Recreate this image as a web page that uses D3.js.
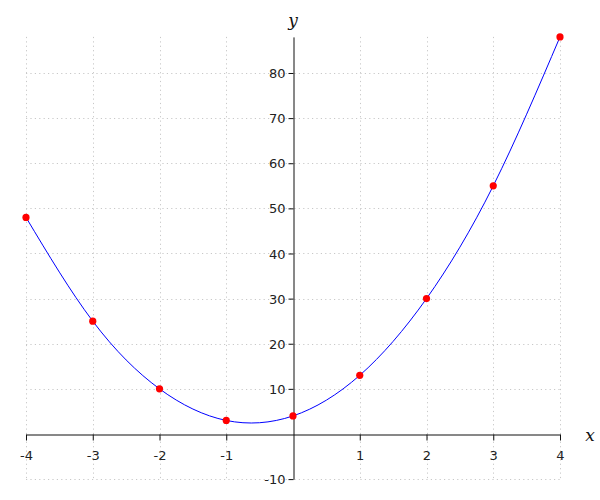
<!DOCTYPE html>
<html><head><meta charset="utf-8">
<script src="https://cdn.jsdelivr.net/npm/d3@7"></script>
<style>body{margin:0;background:#fff}svg{display:block}</style>
</head><body>
<svg id="c" width="600" height="500"></svg>
<script>
const xValues = [-4, -3, -2, -1, 0, 1, 2, 3, 4];
const yValues = [48, 25, 10, 3, 4, 13, 30, 55, 88];
const xTicks = [-4, -3, -2, -1, 1, 2, 3, 4];
const yTicks = [-10, 10, 20, 30, 40, 50, 60, 70, 80];
const xGrid = [-4, -3, -2, -1, 1, 2, 3, 4];
const yGrid = [-10, 10, 20, 30, 40, 50, 60, 70, 80];

const svg = d3.select("#c");
const x = d3.scaleLinear().domain([-4, 4]).range([26, 560]);
const y = d3.scaleLinear().domain([-10, 88]).range([479.1, 36.9]);

const grid = svg.append("g").attr("stroke", "#c8c8c8").attr("stroke-width", 1)
  .attr("stroke-dasharray", "1.2,3.2");
grid.selectAll(".v").data(xGrid).join("line")
  .attr("x1", d => Math.round(x(d)) + 0.5).attr("x2", d => Math.round(x(d)) + 0.5)
  .attr("y1", y(88)).attr("y2", y(-10));
grid.selectAll(".h").data(yGrid).join("line")
  .attr("y1", d => Math.round(y(d)) + 0.5).attr("y2", d => Math.round(y(d)) + 0.5)
  .attr("x1", x(-4)).attr("x2", x(4));

const fmt = d => String(d);
const xAxis = svg.append("g").attr("transform", `translate(0,${Math.round(y(0)) + 0.5})`)
  .call(d3.axisBottom(x).tickValues(xTicks).tickSize(6).tickPadding(10).tickSizeOuter(0).tickFormat(fmt));
const yAxis = svg.append("g").attr("transform", `translate(${Math.round(x(0)) + 0.5},0)`)
  .call(d3.axisLeft(y).tickValues(yTicks).tickSize(5).tickPadding(3).tickSizeOuter(0).tickFormat(fmt));
[xAxis, yAxis].forEach(a => {
  a.selectAll("text").attr("font-family", "DejaVu Sans").attr("font-size", 13).attr("fill", "#222");
  a.selectAll("line, path").attr("stroke", "#111");
});
yAxis.selectAll("text").attr("dy", "0.35em");

const pts = xValues.map((v, i) => [v, yValues[i]]);
const line = d3.line().x(d => x(d[0])).y(d => y(d[1])).curve(d3.curveNatural);
svg.append("path").datum(pts).attr("d", line).attr("fill", "none")
  .attr("stroke", "#0000ff").attr("stroke-width", 1);

svg.selectAll("circle").data(pts).join("circle")
  .attr("cx", d => x(d[0])).attr("cy", d => y(d[1])).attr("r", 3.6).attr("fill", "#ff0000");

svg.append("text").attr("x", 590).attr("y", 441).attr("text-anchor", "middle")
  .attr("font-family", "DejaVu Serif").attr("font-style", "italic").attr("font-size", 17).attr("fill", "#111").text("x");
svg.append("text").attr("x", 293).attr("y", 26).attr("text-anchor", "middle")
  .attr("font-family", "DejaVu Serif").attr("font-style", "italic").attr("font-size", 17).attr("fill", "#111").text("y");
</script>
</body></html>
